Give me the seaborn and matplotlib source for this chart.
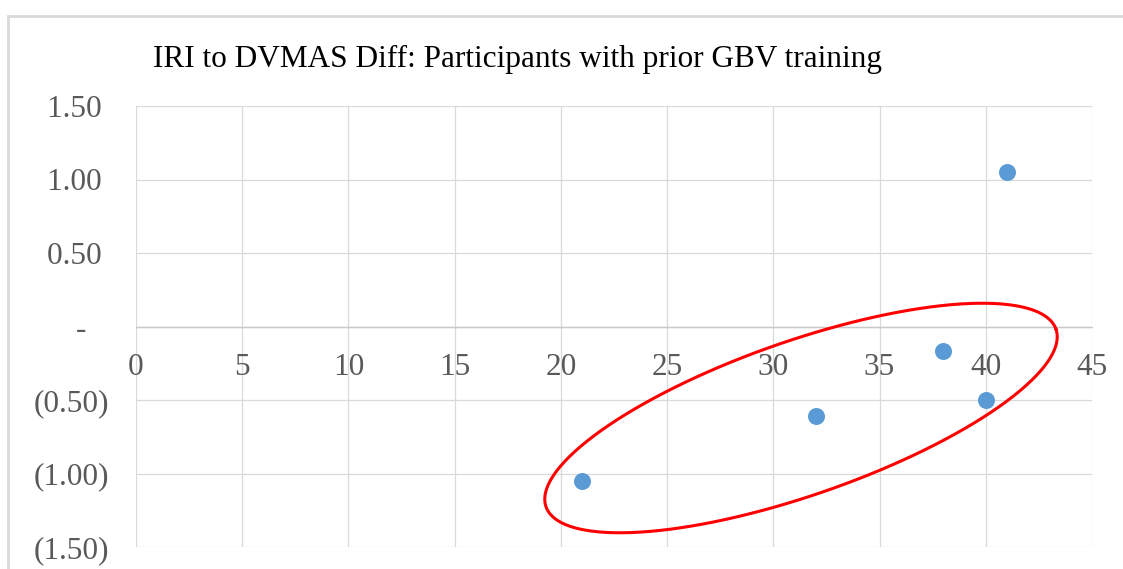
import numpy as np
import matplotlib
matplotlib.use("Agg")
import matplotlib.pyplot as plt
import seaborn as sns
import pandas as pd
from matplotlib.patches import Rectangle

# ---- data ----
training_x = [21, 32, 38, 40, 41]
diff_y = [-1.05, -0.61, -0.17, -0.50, 1.05]
x_ticks = [0, 5, 10, 15, 20, 25, 30, 35, 40, 45]
y_ticks = [-1.5, -1.0, -0.5, 0.0, 0.5, 1.0, 1.5]
y_tick_labels = ["(1.50)", "(1.00)", "(0.50)", "-   ", "0.50 ", "1.00 ", "1.50 "]
title = "IRI to DVMAS Diff: Participants with prior GBV training"

sns.set_theme(style="white")
plt.rcParams["font.family"] = ["Liberation Serif", "DejaVu Serif"]

W, H = 1123, 569
fig = plt.figure(figsize=(W / 100, H / 100), dpi=100)
ax = fig.add_axes([136 / W, 1 - 547 / H, (1092 - 136) / W, (547 - 106) / H])

df = pd.DataFrame({"x": training_x, "y": diff_y})
sns.scatterplot(data=df, x="x", y="y", ax=ax, color="#5b9bd5", s=150,
                linewidth=0, zorder=5, clip_on=False)

ax.set_xlim(0, 45)
ax.set_ylim(-1.5, 1.5)
ax.set_xticks(x_ticks)
ax.set_xticklabels([str(v) for v in x_ticks])
ax.set_yticks(y_ticks)
ax.set_yticklabels(y_tick_labels)
ax.set_xlabel("")
ax.set_ylabel("")

grid_c = "#d9d9d9"
ax.grid(True, color=grid_c, linewidth=0.9)
ax.set_axisbelow(True)
for side in ["top", "right", "left"]:
    ax.spines[side].set_visible(False)
ax.spines["bottom"].set_position(("data", 0))
ax.spines["bottom"].set_color("#c8c8c8")
ax.spines["bottom"].set_linewidth(1.0)

ax.tick_params(axis="both", length=0, labelsize=22.5, labelcolor="#595959")
ax.tick_params(axis="y", pad=19)
ax.tick_params(axis="x", pad=19)

# red ellipse annotation (drawn in pixel geometry, converted to data units)
px_per_x = (1092 - 136) / 45.0
px_per_y = (547 - 106) / 3.0
cx, cy = 801, 418
a, b = 270, 77
th = np.deg2rad(19.2)
t = np.linspace(0, 2 * np.pi, 400)
px = cx + a * np.cos(t) * np.cos(th) - b * np.sin(t) * np.sin(th)
py = cy - (a * np.cos(t) * np.sin(th) + b * np.sin(t) * np.cos(th))
ex = (px - 136) / px_per_x
ey = (326.5 - py) / px_per_y
ax.plot(ex, ey, color="#ff0000", linewidth=2.2, zorder=6, clip_on=False)

# outer chart border
fig.patches.append(Rectangle((8 / W, -0.2), 1.2, 1.2 - 16 / H, transform=fig.transFigure,
                             fill=False, edgecolor="#d9d9d9", linewidth=2))

fig.text(153 / W, 1 - 59 / H, title, ha="left", va="center", fontsize=22.5,
         color="#000000")

fig.savefig("out.png", dpi=100)
